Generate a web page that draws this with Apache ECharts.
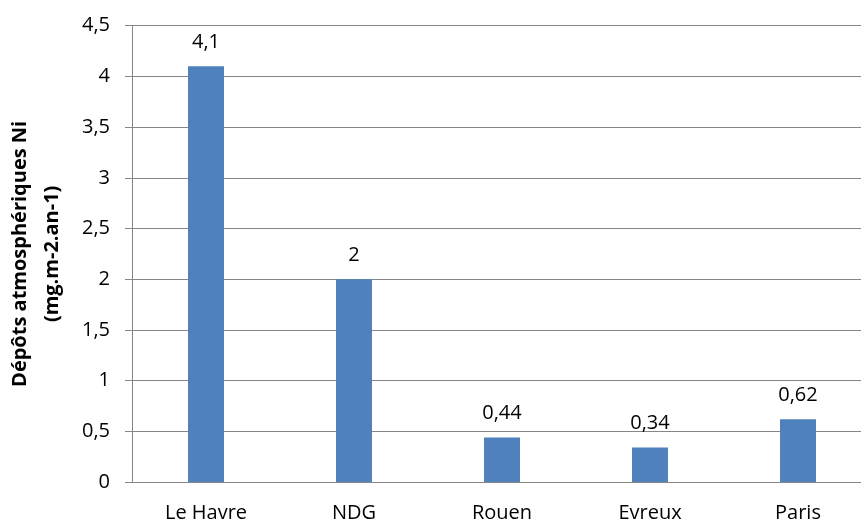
<!DOCTYPE html>
<html><head><meta charset="utf-8">
<script src="https://cdn.jsdelivr.net/npm/echarts@6/dist/echarts.min.js"></script>
<style>html,body{margin:0;padding:0;background:#fff}#c{width:861px;height:523px}</style>
</head><body><div id="c"></div>
<script>
const categories = ['Le Havre', 'NDG', 'Rouen', 'Evreux', 'Paris'];
const values = [4.1, 2, 0.44, 0.34, 0.62];
const yTitle = 'Dépôts atmosphériques Ni\n(mg.m-2.an-1)';
const fmt = v => String(v).replace('.', ',');
const font = '"Open Sans", "Noto Sans", sans-serif';
const chart = echarts.init(document.getElementById('c'));
chart.setOption({
  animation: false,
  grid: { left: 132, width: 740, top: 25.7, bottom: 41, containLabel: false, outerBoundsMode: 'none' },
  xAxis: {
    type: 'category', data: categories,
    axisLine: { lineStyle: { color: '#868686', width: 1 } },
    axisTick: { show: false },
    axisLabel: { color: '#000', fontFamily: font, fontSize: 20, margin: 21 }
  },
  yAxis: {
    type: 'value', min: 0, max: 4.5, interval: 0.5,
    name: yTitle, nameLocation: 'middle', nameGap: 64,
    nameTextStyle: { color: '#000', fontFamily: font, fontSize: 20, fontWeight: 'bold', lineHeight: 32 },
    axisLine: { show: true, lineStyle: { color: '#868686', width: 1 } },
    axisTick: { show: true, length: 7, lineStyle: { color: '#868686' } },
    splitLine: { lineStyle: { color: '#868686', width: 1 } },
    axisLabel: { color: '#000', fontFamily: font, fontSize: 20, margin: 22, formatter: v => fmt(v) }
  },
  series: [{
    type: 'bar', data: values, barWidth: 36,
    itemStyle: { color: '#4F81BD' },
    label: { show: true, position: 'top', distance: 14, color: '#000', fontFamily: font, fontSize: 20, formatter: p => fmt(p.value) }
  }]
});
</script></body></html>
